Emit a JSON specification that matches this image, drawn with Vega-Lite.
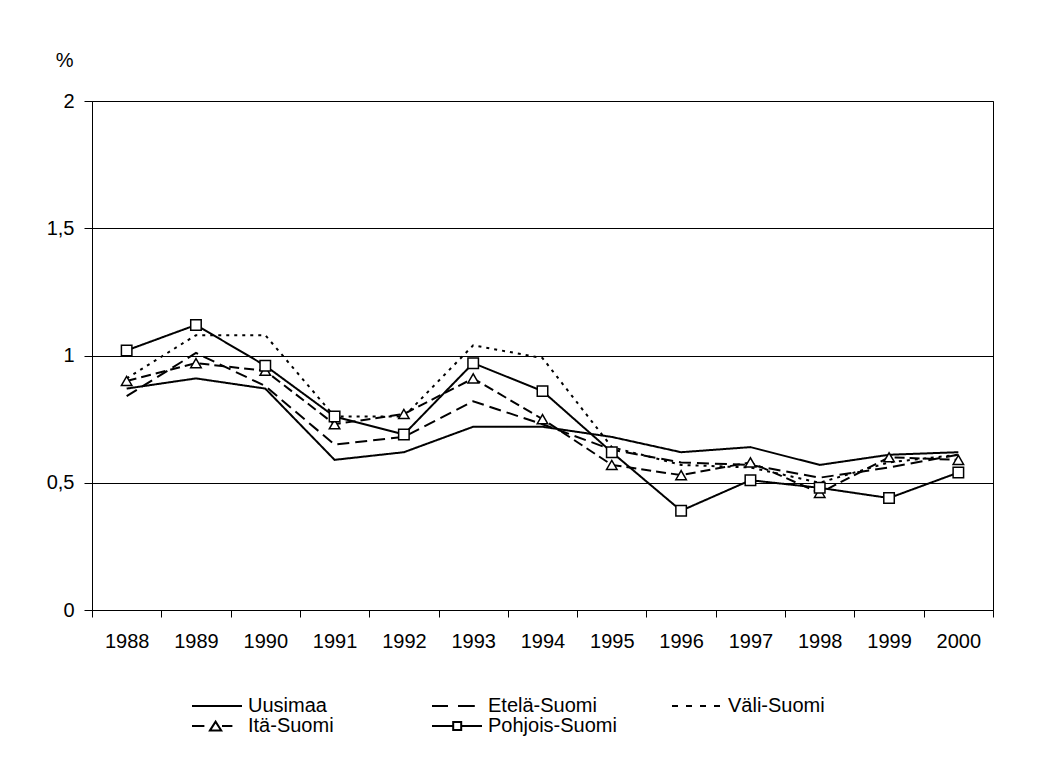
{
  "$schema": "https://vega.github.io/schema/vega-lite/v6.json",
  "width": 901,
  "height": 509,
  "autosize": "none",
  "padding": {"left": 92, "top": 101, "right": 47, "bottom": 166},
  "background": "white",
  "config": {
    "font": "Liberation Sans",
    "view": {"stroke": "black", "strokeWidth": 1},
    "axis": {"labelFont": "Liberation Sans", "labelFontSize": 20, "labelColor": "black", "domainColor": "black", "tickColor": "black", "titleFont": "Liberation Sans", "titleColor": "black"},
    "legend": {"labelFont": "Liberation Sans", "labelFontSize": 20, "labelColor": "black"}
  },
  "data": {
    "values": [
      {"year": 1988, "region": "Uusimaa", "value": 0.87},
      {"year": 1989, "region": "Uusimaa", "value": 0.91},
      {"year": 1990, "region": "Uusimaa", "value": 0.87},
      {"year": 1991, "region": "Uusimaa", "value": 0.59},
      {"year": 1992, "region": "Uusimaa", "value": 0.62},
      {"year": 1993, "region": "Uusimaa", "value": 0.72},
      {"year": 1994, "region": "Uusimaa", "value": 0.72},
      {"year": 1995, "region": "Uusimaa", "value": 0.68},
      {"year": 1996, "region": "Uusimaa", "value": 0.62},
      {"year": 1997, "region": "Uusimaa", "value": 0.64},
      {"year": 1998, "region": "Uusimaa", "value": 0.57},
      {"year": 1999, "region": "Uusimaa", "value": 0.61},
      {"year": 2000, "region": "Uusimaa", "value": 0.62},
      {"year": 1988, "region": "Etelä-Suomi", "value": 0.84},
      {"year": 1989, "region": "Etelä-Suomi", "value": 1.01},
      {"year": 1990, "region": "Etelä-Suomi", "value": 0.88},
      {"year": 1991, "region": "Etelä-Suomi", "value": 0.65},
      {"year": 1992, "region": "Etelä-Suomi", "value": 0.68},
      {"year": 1993, "region": "Etelä-Suomi", "value": 0.82},
      {"year": 1994, "region": "Etelä-Suomi", "value": 0.73},
      {"year": 1995, "region": "Etelä-Suomi", "value": 0.63},
      {"year": 1996, "region": "Etelä-Suomi", "value": 0.58},
      {"year": 1997, "region": "Etelä-Suomi", "value": 0.57},
      {"year": 1998, "region": "Etelä-Suomi", "value": 0.52},
      {"year": 1999, "region": "Etelä-Suomi", "value": 0.56},
      {"year": 2000, "region": "Etelä-Suomi", "value": 0.61},
      {"year": 1988, "region": "Väli-Suomi", "value": 0.91},
      {"year": 1989, "region": "Väli-Suomi", "value": 1.08},
      {"year": 1990, "region": "Väli-Suomi", "value": 1.08},
      {"year": 1991, "region": "Väli-Suomi", "value": 0.76},
      {"year": 1992, "region": "Väli-Suomi", "value": 0.76},
      {"year": 1993, "region": "Väli-Suomi", "value": 1.04},
      {"year": 1994, "region": "Väli-Suomi", "value": 0.99},
      {"year": 1995, "region": "Väli-Suomi", "value": 0.64},
      {"year": 1996, "region": "Väli-Suomi", "value": 0.57},
      {"year": 1997, "region": "Väli-Suomi", "value": 0.56},
      {"year": 1998, "region": "Väli-Suomi", "value": 0.5},
      {"year": 1999, "region": "Väli-Suomi", "value": 0.58},
      {"year": 2000, "region": "Väli-Suomi", "value": 0.61},
      {"year": 1988, "region": "Itä-Suomi", "value": 0.9},
      {"year": 1989, "region": "Itä-Suomi", "value": 0.97},
      {"year": 1990, "region": "Itä-Suomi", "value": 0.94},
      {"year": 1991, "region": "Itä-Suomi", "value": 0.73},
      {"year": 1992, "region": "Itä-Suomi", "value": 0.77},
      {"year": 1993, "region": "Itä-Suomi", "value": 0.91},
      {"year": 1994, "region": "Itä-Suomi", "value": 0.75},
      {"year": 1995, "region": "Itä-Suomi", "value": 0.57},
      {"year": 1996, "region": "Itä-Suomi", "value": 0.53},
      {"year": 1997, "region": "Itä-Suomi", "value": 0.58},
      {"year": 1998, "region": "Itä-Suomi", "value": 0.46},
      {"year": 1999, "region": "Itä-Suomi", "value": 0.6},
      {"year": 2000, "region": "Itä-Suomi", "value": 0.59},
      {"year": 1988, "region": "Pohjois-Suomi", "value": 1.02},
      {"year": 1989, "region": "Pohjois-Suomi", "value": 1.12},
      {"year": 1990, "region": "Pohjois-Suomi", "value": 0.96},
      {"year": 1991, "region": "Pohjois-Suomi", "value": 0.76},
      {"year": 1992, "region": "Pohjois-Suomi", "value": 0.69},
      {"year": 1993, "region": "Pohjois-Suomi", "value": 0.97},
      {"year": 1994, "region": "Pohjois-Suomi", "value": 0.86},
      {"year": 1995, "region": "Pohjois-Suomi", "value": 0.62},
      {"year": 1996, "region": "Pohjois-Suomi", "value": 0.39},
      {"year": 1997, "region": "Pohjois-Suomi", "value": 0.51},
      {"year": 1998, "region": "Pohjois-Suomi", "value": 0.48},
      {"year": 1999, "region": "Pohjois-Suomi", "value": 0.44},
      {"year": 2000, "region": "Pohjois-Suomi", "value": 0.54}
    ]
  },
  "encoding": {
    "x": {
      "field": "year",
      "type": "ordinal",
      "bandPosition": 0.5,
      "scale": {"type": "band", "paddingInner": 0, "paddingOuter": 0},
      "axis": {"title": null, "labelAngle": 0, "tickBand": "extent", "tickSize": 7, "labelPadding": 14, "grid": false, "domainColor": "black"}
    },
    "y": {
      "field": "value",
      "type": "quantitative",
      "scale": {"domain": [0, 2], "nice": false, "zero": true},
      "axis": {
        "values": [0, 0.5, 1, 1.5, 2],
        "labelExpr": "replace(toString(datum.value), '.', ',')",
        "tickSize": 8,
        "labelPadding": 10,
        "grid": true,
        "gridColor": "black",
        "gridOpacity": 1,
        "gridWidth": 1,
        "title": "%",
        "titleAngle": 0,
        "titleX": -19,
        "titleY": -41,
        "titleAlign": "right",
        "titleBaseline": "middle",
        "titleFontSize": 20,
        "titleFontWeight": "normal"
      }
    }
  },
  "resolve": {"scale": {"shape": "independent"}, "legend": {"shape": "independent"}},
  "layer": [
    {
      "mark": {"type": "line", "color": "black", "strokeWidth": 2},
      "encoding": {
        "detail": {"field": "region"},
        "strokeDash": {
          "field": "region",
          "type": "nominal",
          "scale": {
            "domain": ["Pohjois-Suomi", "Itä-Suomi", "Väli-Suomi", "Etelä-Suomi", "Uusimaa"],
            "range": [[1, 0], [10, 5], [3, 5], [12, 6], [1, 0]]
          },
          "legend": null
        }
      }
    },
    {
      "mark": {"type": "point", "filled": false, "opacity": 0, "size": 1},
      "encoding": {
        "shape": {
          "field": "region",
          "type": "nominal",
          "scale": {
            "domain": ["Uusimaa", "Itä-Suomi", "Etelä-Suomi", "Pohjois-Suomi", "Väli-Suomi"],
            "range": [
              "M-5.25,0H1",
              "M-5.25,0H-3.7M-1.5,0H-0.2M-3,0.55L-2.3,-0.55L-1.6,0.55Z",
              "M-5.25,0H-3.25M-2,0H0.1",
              "M-5.25,0H-2.6M-1.6,0H1M-2.6,-0.5H-1.6V0.5H-2.6Z",
              "M-5.25,0H-4.5M-3.5,0H-2.75M-1.75,0H-1M0,0H0.75"
            ]
          },
          "legend": {
            "title": null,
            "orient": "none",
            "legendX": 132,
            "legendY": 595,
            "columns": 3,
            "gridAlign": "all",
            "columnPadding": 51,
            "rowPadding": 0,
            "padding": 0,
            "symbolSize": 256,
            "symbolOpacity": 1,
            "symbolFillColor": "white",
            "symbolStrokeColor": "black",
            "symbolStrokeWidth": 2,
            "labelOffset": 4,
            "labelFontSize": 20
          }
        }
      }
    },
    {
      "transform": [{"filter": {"field": "region", "oneOf": ["Itä-Suomi", "Pohjois-Suomi"]}}],
      "mark": {"type": "point", "filled": true, "fill": "white", "stroke": "black", "strokeWidth": 1.5, "size": 110, "opacity": 1},
      "encoding": {
        "shape": {
          "field": "region",
          "type": "nominal",
          "scale": {
            "domain": ["Itä-Suomi", "Pohjois-Suomi"],
            "range": ["triangle-up", "square"]
          },
          "legend": null
        }
      }
    }
  ]
}
